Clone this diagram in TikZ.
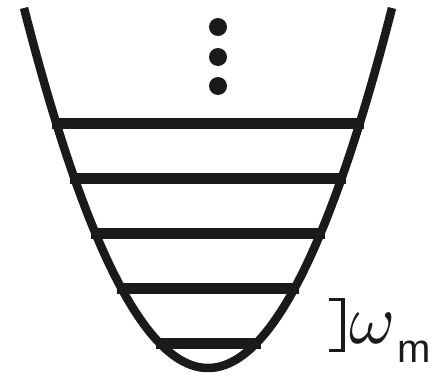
\documentclass[tikz,border=0pt]{standalone}
\usepackage{fontspec}
\setmainfont{Liberation Serif}
\newfontfamily\labsans{Liberation Sans}
\definecolor{ink}{HTML}{1A1A1A}
\begin{document}
\begin{tikzpicture}[x=1pt,y=-1pt,
  well/.style={line width=8.5pt,draw=ink},
  level/.style={line width=11pt,draw=ink},
  dotmark/.style={fill=ink},
  brack/.style={line width=3.5pt,draw=ink},
  lab/.style={inner sep=0pt,text=ink,anchor=base west}]
\useasboundingbox (0,0) rectangle (438,375);
% potential well
\draw[well] plot[domain=-184:184,samples=120] ({208+\x},{368-1.0633*(\x/10)*(\x/10)});
% energy levels
\draw[level] (52.2,123) -- (363.8,123);
\draw[level] (70.3,178) -- (345.7,178);
\draw[level] (91.3,233) -- (324.7,233);
\draw[level] (117.3,288) -- (298.7,288);
\draw[level] (155.5,343) -- (260.5,343);
% dots
\fill[dotmark] (218,27) circle (9);
\fill[dotmark] (218,57) circle (9);
\fill[dotmark] (218,86) circle (9);
% bracket
\draw[brack] (329,299.5) -- (343,299.5) -- (343,350.5) -- (329,350.5);
% label
\node[lab] (wm) at (349,343) {\scalebox{7}{$\omega$}\hspace{2pt}\raisebox{-19pt}{\labsans\fontsize{40pt}{40pt}\selectfont m}};
\end{tikzpicture}
\end{document}
